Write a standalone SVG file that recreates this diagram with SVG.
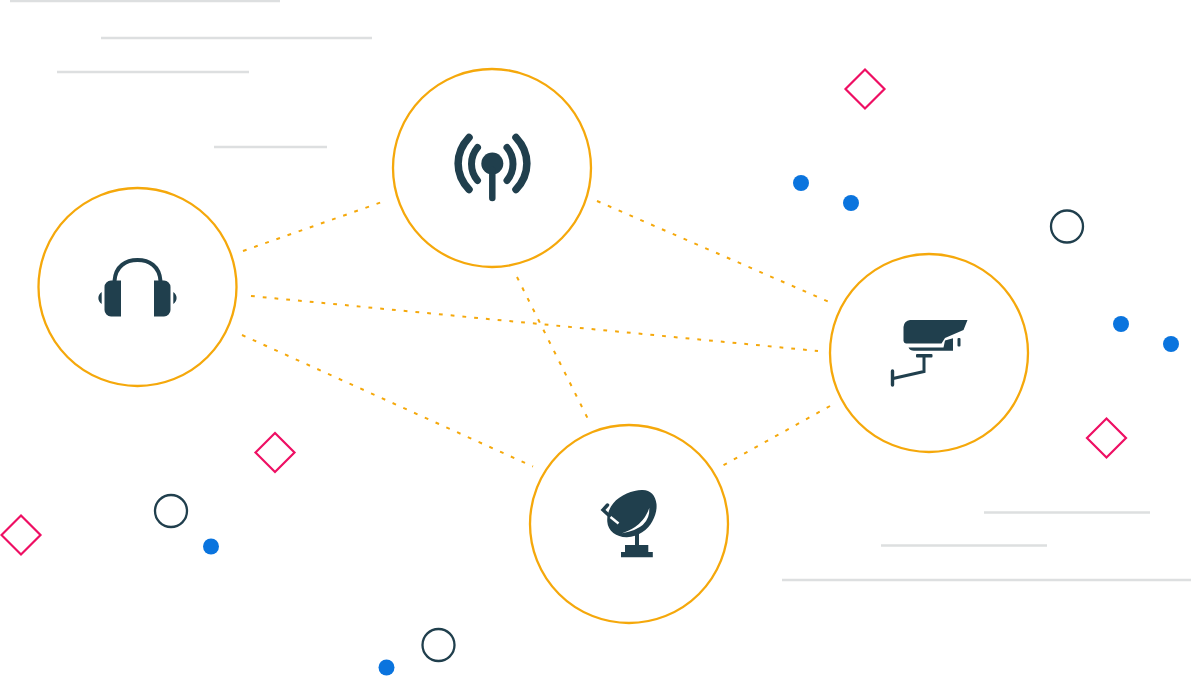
<svg xmlns="http://www.w3.org/2000/svg" width="1191" height="676" viewBox="0 0 1191 676">
<style>
.bar{stroke:#dddfe0;stroke-width:2.400;fill:none}
.dia{fill:none;stroke:#ee0f63;stroke-width:2.200}
.ring{fill:none;stroke:#203f4d;stroke-width:2.300}
.dot{fill:#0a74de}
.node{fill:#fff;stroke:#f5a80b;stroke-width:2.300}
.link{stroke:#f5a80b;stroke-width:2;stroke-dasharray:3.800 8;fill:none}
.ic{fill:#203f4d}
.st{fill:none;stroke:#203f4d;stroke-linecap:round}
</style>
<g id="decor">
<path class="bar" d="M10 1H280M101 38H372M57 72H249M214 147H327M984 512.500H1150M881 545.500H1047M782 580H1191"/>
<path class="dia" d="M865 69.500L884.500 89L865 108.500L845.500 89ZM275 433L294.500 452.500L275 472L255.500 452.500ZM21 515.500L40.500 535L21 554.500L1.500 535ZM1106.500 418.500L1126 438L1106.500 457.500L1087 438Z"/>
<circle class="ring" cx="171" cy="511" r="16"/><circle class="ring" cx="438.500" cy="645" r="16"/><circle class="ring" cx="1067" cy="226.500" r="16"/>
<circle class="dot" cx="801" cy="183" r="8"/><circle class="dot" cx="851" cy="203" r="8"/><circle class="dot" cx="1121" cy="324" r="8"/><circle class="dot" cx="1171" cy="344" r="8"/><circle class="dot" cx="211" cy="546.500" r="8"/><circle class="dot" cx="386.500" cy="667.500" r="8"/>
</g>
<g id="connectors">
<path class="link" d="M243 251L386 200.600"/>
<path class="link" d="M251 296L818 351"/>
<path class="link" d="M242 335L533 466.500"/>
<path class="link" d="M517 277L590 423"/>
<path class="link" d="M597 201L835 304.500"/>
<path class="link" d="M830 406L722 466"/>
</g>
<g id="node-headphones">
<circle class="node" cx="137.500" cy="287" r="99"/>
<path class="st" stroke-width="4" stroke-linecap="butt" d="M114.500 281C115.500 266 126 260 137.500 260C149 260 159.500 266 160.500 281"/>
<path class="ic" d="M121 280.500V316.500H111A6.500 6.500 0 0 1 104.500 310V287A6.500 6.500 0 0 1 111 280.500ZM154 280.500H164A6.500 6.500 0 0 1 170.500 287V310A6.500 6.500 0 0 1 164 316.500H154ZM101.700 292V304C97.300 301 97.300 295 101.700 292ZM173.300 292C177.700 295 177.700 301 173.300 304Z"/>
</g>
<g id="node-antenna">
<circle class="node" cx="492" cy="168" r="99"/>
<circle class="ic" cx="492.300" cy="163.500" r="11"/>
<path class="st" stroke-width="6.500" d="M492.300 170V198"/>
<path class="st" stroke-width="7" d="M477.500 147.500C469.500 157 469.500 171 477.500 180.500M507 147.500C515 157 515 171 507 180.500"/>
<path class="st" stroke-width="7.500" d="M469 137.500C454.500 153 454.500 174 469 189.500M516 137.500C530.500 153 530.500 174 516 189.500"/>
</g>
<g id="node-camera">
<circle class="node" cx="929" cy="353" r="99"/>
<path class="ic" d="M910 320H967.500L963.500 330L945 338L941.500 343.500H906A3 3 0 0 1 903.500 341V327A7 7 0 0 1 910 320Z"/>
<path class="ic" d="M908.500 347.500H943.500L945 340.500L953 338.300V350.700H914Q910 350.700 908.500 347.500Z"/>
<rect class="ic" x="957.500" y="338" width="3" height="8.500" rx="1"/>
<rect class="ic" x="916" y="354" width="16.500" height="3.400" rx="1"/>
<path class="st" stroke-width="3" d="M924 357V371.500L893 378.500"/>
<path class="st" stroke-width="3.400" d="M892.500 371V385"/>
</g>
<g id="node-dish">
<circle class="node" cx="629" cy="524" r="99"/>
<path class="ic" d="M641.700 490C633 490 620 495 613.300 503.300C608.500 509 606.800 516 607.300 521.700C607.800 531 617 537.500 627 537.200C638 536.500 648 530 652.500 521C655.500 515.500 657 510 656.500 504C655.500 495 650 489.500 641.700 490Z"/>
<path fill="#fff" d="M622 533.200Q643 526.500 649.300 508Q650.500 528.500 622 533.200Z"/>
<path class="st" stroke-width="3.500" stroke-linecap="butt" d="M607.500 505L603 510L611 517.300"/>
<path fill="none" stroke="#fff" stroke-width="2.500" d="M610.500 517L618.500 523.500"/>
<path class="ic" d="M635 533H639V545H648.300V552H652.800V557.300H621V552H625V545H635Z"/>
</g>
</svg>
